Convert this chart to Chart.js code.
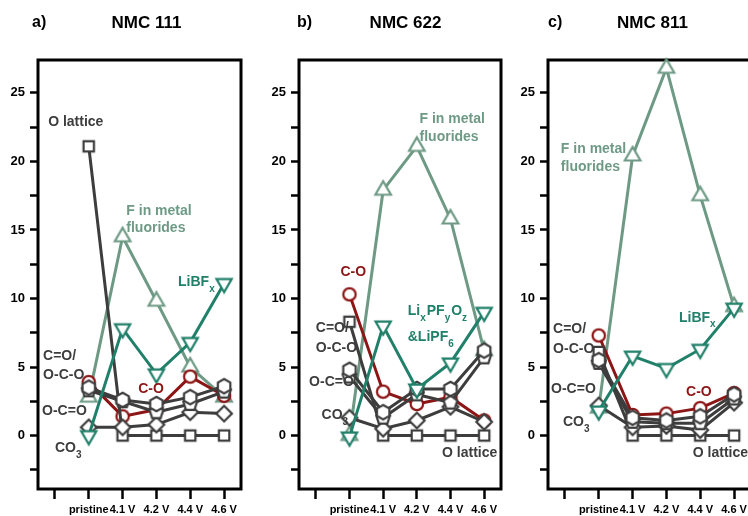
<!DOCTYPE html>
<html>
<head>
<meta charset="utf-8">
<script src="https://cdn.jsdelivr.net/npm/chart.js@4.4.1/dist/chart.umd.min.js"></script>
<style>
  html, body { margin: 0; padding: 0; background: #fff; overflow: hidden; }
  body { width: 748px; height: 516px; position: relative; }
  canvas { position: absolute; top: 0; }
</style>
</head>
<body>
<canvas id="chart111" width="250" height="516" style="left:0px"></canvas>
<canvas id="chart622" width="249" height="516" style="left:261px"></canvas>
<canvas id="chart811" width="250" height="516" style="left:510px"></canvas>
<script>
// charge states (first slot is an empty spacer tick)
const stages = ["", "pristine", "4.1 V", "4.2 V", "4.4 V", "4.6 V"];
const yTicks = [-2.5, 0, 2.5, 5, 7.5, 10, 12.5, 15, 17.5, 20, 22.5, 25];

// NMC 111
const fluor111     = [2.8, 14.5, 9.8, 5.0, 2.8];
const libf111      = [0.0, 7.8, 4.5, 6.8, 11.1];
const co111        = [3.9, 1.4, 1.9, 4.3, 2.9];
const lattice111   = [21.1, 0, 0, 0, 0];
const carbonyl111  = [3.5, 2.6, 2.3, 2.8, 3.6];
const carboxyl111  = [3.3, 2.5, 1.7, 2.3, 3.2];
const carbonate111 = [0.6, 0.6, 0.8, 1.7, 1.6];

// NMC 622
const fluor622     = [0.0, 17.9, 21.1, 15.8, 6.2];
const lipf622      = [-0.1, 8.0, 3.4, 5.3, 9.0];
const co622        = [10.3, 3.2, 2.3, 2.8, 1.1];
const lattice622   = [8.3, 0, 0, 0, 0];
const carbonyl622  = [4.8, 1.7, 3.4, 3.4, 6.2];
const carboxyl622  = [4.3, 1.3, 3.0, 2.4, 5.7];
const carbonate622 = [1.3, 0.5, 1.1, 2.1, 1.0];

// NMC 811
const fluor811     = [2.0, 20.4, 26.8, 17.5, 9.4];
const libf811      = [1.8, 5.8, 4.9, 6.3, 9.3];
const co811        = [7.3, 1.5, 1.6, 2.0, 3.1];
const lattice811   = [6.1, 0, 0, 0, 0];
const carbonyl811  = [5.5, 1.3, 1.1, 1.4, 3.0];
const carboxyl811  = [5.3, 1.0, 0.9, 0.9, 2.7];
const carbonate811 = [2.2, 0.6, 0.7, 0.4, 2.4];

const GRAY = "#3d3d3d";
const SAGE = "#6e9a85";
const TEAL = "#21806a";
const RED = "#8c1515";
const FONT = '"Liberation Sans", Arial, sans-serif';

// hollow markers drawn on small canvases
function marker(shape, color) {
    const c = document.createElement("canvas");
    c.width = c.height = 24;
    const g = c.getContext("2d");
    g.translate(12, 12);
    g.beginPath();
    const poly = (n, r, a0) => {
        for (let i = 0; i < n; i++) {
            const a = a0 + i * 2 * Math.PI / n;
            const px = r * Math.cos(a), py = r * Math.sin(a);
            i ? g.lineTo(px, py) : g.moveTo(px, py);
        }
        g.closePath();
    };
    if (shape === "circle") g.arc(0, 0, 6.2, 0, Math.PI * 2);
    else if (shape === "square") g.rect(-5.2, -5.2, 10.4, 10.4);
    else if (shape === "up") poly(3, 9, -Math.PI / 2);
    else if (shape === "down") poly(3, 8.8, Math.PI / 2);
    else if (shape === "hex") poly(6, 7.2, -Math.PI / 2);
    else if (shape === "pent") poly(5, 7.2, -Math.PI / 2);
    else if (shape === "diamond") poly(4, 7.8, -Math.PI / 2);
    g.fillStyle = "#fff";
    g.fill();
    g.lineWidth = 2.2;
    g.strokeStyle = color;
    g.stroke();
    return c;
}

// text with "_x" style subscripts
function richText(ctx, text, x, y) {
    const parts = text.split(/_(.)/);
    let cx = x;
    parts.forEach((p, i) => {
        if (!p) return;
        const sub = i % 2 === 1;
        ctx.font = sub ? "bold 10px " + FONT : "bold 14px " + FONT;
        ctx.fillText(p, cx, sub ? y + 7 : y);
        cx += ctx.measureText(p).width + (sub ? 1 : 0);
    });
}

const panelText = {
    id: "panelText",
    beforeDatasetsDraw(chart) {
        const { ctx, chartArea: a } = chart;
        ctx.save();
        ctx.strokeStyle = "#000";
        ctx.lineWidth = 3;
        ctx.strokeRect(a.left, a.top, a.right - a.left, a.bottom - a.top);
        ctx.restore();
    },
    afterDatasetsDraw(chart) {
        const o = chart.options.plugins.panelText;
        const { ctx, chartArea: a, scales } = chart;
        ctx.save();
        ctx.fillStyle = "#000";
        ctx.textBaseline = "middle";
        ctx.textAlign = "left";
        ctx.font = "bold 16px " + FONT;
        ctx.fillText(o.letter, a.left + o.letterDx, 23);
        ctx.textAlign = "center";
        ctx.font = "bold 17px " + FONT;
        ctx.fillText(o.title, (a.left + a.right) / 2 + o.titleDx, 23.5);
        ctx.textAlign = "left";
        o.notes.forEach(n => {
            ctx.fillStyle = n.c;
            richText(ctx, n.t, scales.x.getPixelForValue(n.x), scales.y.getPixelForValue(n.y));
        });
        ctx.restore();
    }
};

function series(values, color, shape) {
    return {
        data: values.map((v, i) => ({ x: i + 1, y: v })),
        borderColor: color,
        borderWidth: 3,
        pointStyle: marker(shape, color),
        pointRadius: 6,
        tension: 0,
        fill: false,
        clip: false
    };
}

function panel(id, datasets, letter, title, letterDx, titleDx, notes) {
    return new Chart(document.getElementById(id), {
        type: "line",
        data: { datasets: datasets },
        options: {
            responsive: false,
            animation: false,
            events: [],
            layout: { padding: { top: 60, right: 4, left: 0, bottom: 0 } },
            plugins: {
                legend: { display: false },
                tooltip: { enabled: false },
                panelText: { letter, title, letterDx, titleDx, notes }
            },
            scales: {
                x: {
                    type: "linear",
                    min: -0.5,
                    max: 5.5,
                    afterBuildTicks: s => { s.ticks = stages.map((_, i) => ({ value: i })); },
                    afterFit: s => { s.height = 27; },
                    border: { display: false },
                    grid: { drawOnChartArea: false, tickLength: 10, tickWidth: 2.5, tickColor: "#000" },
                    ticks: {
                        callback: v => stages[v],
                        font: { family: FONT, size: 11, weight: "bold" },
                        color: "#000",
                        padding: 4,
                        maxRotation: 0,
                        autoSkip: false
                    }
                },
                y: {
                    min: -3.9,
                    max: 27.4,
                    afterBuildTicks: s => { s.ticks = yTicks.map(v => ({ value: v })); },
                    afterFit: s => { s.width = 38; },
                    border: { display: false },
                    grid: { drawOnChartArea: false, tickLength: 8, tickWidth: 2.5, tickColor: "#000" },
                    ticks: {
                        callback: v => (v % 5 === 0 ? v : ""),
                        font: { family: FONT, size: 13, weight: "bold" },
                        color: "#000",
                        padding: 5
                    }
                }
            }
        },
        plugins: [panelText]
    });
}

panel("chart111", [
    series(libf111, TEAL, "down"),
    series(carbonyl111, GRAY, "hex"),
    series(carboxyl111, GRAY, "pent"),
    series(carbonate111, GRAY, "diamond"),
    series(lattice111, GRAY, "square"),
    series(co111, RED, "circle"),
    series(fluor111, SAGE, "up")
], "a)", "NMC 111", -6, 7, [
    { t: "O lattice", x: -0.2, y: 22.85, c: GRAY },
    { t: "F in metal", x: 2.11, y: 16.4, c: SAGE },
    { t: "fluorides", x: 2.11, y: 15.1, c: SAGE },
    { t: "LiBF_x", x: 3.64, y: 11.2, c: TEAL },
    { t: "C=O/", x: -0.35, y: 5.8, c: GRAY },
    { t: "O-C-O", x: -0.35, y: 4.4, c: GRAY },
    { t: "O-C=O", x: -0.38, y: 1.8, c: GRAY },
    { t: "CO_3", x: 0.0, y: -0.9, c: GRAY },
    { t: "C-O", x: 2.46, y: 3.4, c: RED }
]);

panel("chart622", [
    series(lipf622, TEAL, "down"),
    series(carbonyl622, GRAY, "hex"),
    series(carboxyl622, GRAY, "pent"),
    series(carbonate622, GRAY, "diamond"),
    series(lattice622, GRAY, "square"),
    series(co622, RED, "circle"),
    series(fluor622, SAGE, "up")
], "b)", "NMC 622", -2, 5.5, [
    { t: "F in metal", x: 3.08, y: 23.1, c: SAGE },
    { t: "fluorides", x: 3.08, y: 21.75, c: SAGE },
    { t: "C-O", x: 0.73, y: 11.9, c: RED },
    { t: "C=O/", x: 0.0, y: 7.8, c: GRAY },
    { t: "O-C-O", x: 0.0, y: 6.4, c: GRAY },
    { t: "O-C=O", x: -0.2, y: 3.9, c: GRAY },
    { t: "CO_3", x: 0.17, y: 1.5, c: GRAY },
    { t: "Li_xPF_yO_z", x: 2.73, y: 9.1, c: TEAL },
    { t: "&LiPF_6", x: 2.73, y: 7.15, c: TEAL },
    { t: "O lattice", x: 3.75, y: -1.25, c: GRAY }
]);

panel("chart811", [
    series(libf811, TEAL, "down"),
    series(carbonyl811, GRAY, "hex"),
    series(carboxyl811, GRAY, "pent"),
    series(carbonate811, GRAY, "diamond"),
    series(lattice811, GRAY, "square"),
    series(co811, RED, "circle"),
    series(fluor811, SAGE, "up")
], "c)", "NMC 811", 0, 3, [
    { t: "F in metal", x: -0.12, y: 20.9, c: SAGE },
    { t: "fluorides", x: -0.12, y: 19.55, c: SAGE },
    { t: "LiBF_x", x: 3.37, y: 8.6, c: TEAL },
    { t: "C=O/", x: -0.35, y: 7.75, c: GRAY },
    { t: "O-C-O", x: -0.35, y: 6.3, c: GRAY },
    { t: "O-C=O", x: -0.41, y: 3.35, c: GRAY },
    { t: "CO_3", x: -0.06, y: 0.95, c: GRAY },
    { t: "C-O", x: 3.58, y: 3.2, c: RED },
    { t: "O lattice", x: 3.78, y: -1.25, c: GRAY }
]);
</script>
</body>
</html>
